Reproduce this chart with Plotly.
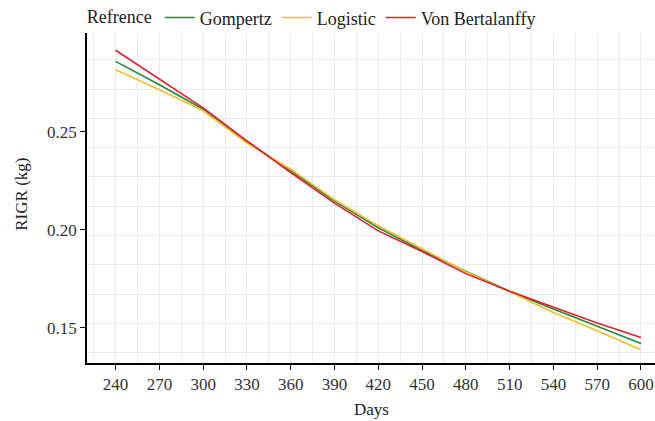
import plotly.graph_objects as go

days = [240, 270, 300, 330, 360, 390, 420, 450, 480, 510, 540, 570, 600]
gompertz = [0.2859, 0.2740, 0.2615, 0.2450, 0.2302, 0.2146, 0.2010, 0.1894, 0.1788, 0.1686, 0.1595, 0.1507, 0.1420]
logistic = [0.2816, 0.2714, 0.2607, 0.2442, 0.2309, 0.2153, 0.2020, 0.1904, 0.1786, 0.1684, 0.1578, 0.1485, 0.1388]
bertalanffy = [0.2916, 0.2770, 0.2622, 0.2454, 0.2292, 0.2136, 0.1994, 0.1889, 0.1776, 0.1686, 0.1606, 0.1524, 0.1450]

series = [
    ("Gompertz", gompertz, "#1f8b3b"),
    ("Logistic", logistic, "#f6be2c"),
    ("Von Bertalanffy", bertalanffy, "#e61e2a"),
]

x_ticks = list(range(240, 601, 30))
y_ticks = [0.15, 0.20, 0.25]
y_tick_text = ["0.15", "0.20", "0.25"]
x_title = "Days"
y_title = "RIGR (kg)"

FONT = "Liberation Serif, Times New Roman, serif"
GRID = "#ebebeb"
TXT = "#222222"


def serif(t):
    return "<span style='font-family:Liberation Serif,serif'>" + t + "</span>"


fig = go.Figure()
for name, vals, col in series:
    fig.add_trace(go.Scatter(x=days, y=vals, mode="lines", name=name,
                             line=dict(color=col, width=1.6)))

fig.update_layout(
    width=655, height=421,
    margin=dict(l=87, r=0, t=33, b=58, autoexpand=False),
    paper_bgcolor="white", plot_bgcolor="white",
    font=dict(family=FONT, size=17, color=TXT),
    showlegend=True,
    legend=dict(
        orientation="h", x=-0.004, xanchor="left", y=1.046, yanchor="middle",
        title=dict(text="Refrence", side="left", font=dict(family=FONT, size=18, color=TXT)),
        font=dict(family=FONT, size=18, color=TXT),
        bgcolor="rgba(0,0,0,0)",
        itemwidth=30, tracegroupgap=0,
    ),
    annotations=[
        dict(text=y_title, xref="paper", yref="paper", x=-0.1144, y=0.51,
             xanchor="center", yanchor="middle", textangle=-90, showarrow=False,
             font=dict(family=FONT, size=17, color=TXT)),
        dict(text=x_title, xref="paper", yref="paper", x=0.5, y=-0.142,
             xanchor="center", yanchor="middle", showarrow=False,
             font=dict(family=FONT, size=17, color=TXT)),
    ],
)

fig.update_xaxes(
    range=[220.4, 609.6], automargin=False,
    tickvals=x_ticks, ticktext=[serif(str(v)) for v in x_ticks],
    showgrid=True, gridcolor=GRID, gridwidth=1.3,
    minor=dict(dtick=15, tick0=225, showgrid=True, gridcolor=GRID, gridwidth=1.3, ticks=""),
    showline=True, linecolor="black", linewidth=1.6,
    ticks="outside", ticklen=5, tickcolor="black", tickwidth=1.3,
    tickfont=dict(family="Times New Roman", size=17, color="#333333"),
    zeroline=False,
)

fig.update_yaxes(
    range=[0.1320, 0.3004], automargin=False,
    tickvals=y_ticks, ticktext=[serif(t) for t in y_tick_text],
    showgrid=False,
    minor=dict(tick0=0.25684, dtick=0.01495, showgrid=True, gridcolor=GRID, gridwidth=1.3, ticks=""),
    showline=True, linecolor="black", linewidth=1.6,
    ticks="outside", ticklen=5, tickcolor="black", tickwidth=1.3,
    tickfont=dict(family="Times New Roman", size=17, color="#333333"),
    zeroline=False,
)

fig.write_html(
    "out.html",
    config={"displayModeBar": False},
    post_script="document.body.style.margin='0';document.body.style.overflow='hidden';",
)
